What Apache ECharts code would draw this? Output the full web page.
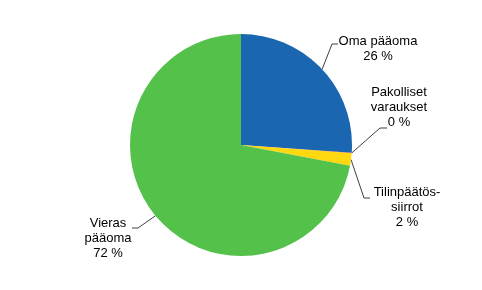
<!DOCTYPE html>
<html>
<head>
<meta charset="utf-8">
<script src="https://cdn.jsdelivr.net/npm/echarts@6/dist/echarts.min.js"></script>
<style>
html,body{margin:0;padding:0;background:#fff;}
#chart{width:482px;height:290px;}
</style>
</head>
<body>
<div id="chart"></div>
<script>
// ---- data ----
const categories = ['Oma pääoma', 'Pakolliset varaukset', 'Tilinpäätössiirrot', 'Vieras pääoma'];
const labelTexts = ['Oma pääoma\n26 %', 'Pakolliset\nvaraukset\n0 %', 'Tilinpäätös-\nsiirrot\n2 %', 'Vieras\npääoma\n72 %'];
const values = [26.1, 0.1, 1.8, 72.0];

// ---- styling / layout config ----
const colors = ['#1a66b0', '#c0504d', '#ffd80f', '#54c14a'];
// label block centre, line anchor (relative to label centre), elbow offset
const labelLayouts = [
  {x: 378, y: 49,  ax: -40, ay: -5, ex: -6},
  {x: 399, y: 107, ax: -12, ay: 21, ex: -7},
  {x: 407, y: 207, ax: -37, ay: -9, ex: -6},
  {x: 108, y: 238, ax: 24,  ay: -10, ex: 6}
];

const chart = echarts.init(document.getElementById('chart'), null, {renderer: 'canvas'});
chart.setOption({
  animation: false,
  backgroundColor: '#ffffff',
  series: [{
    type: 'pie',
    center: [241, 145],
    radius: [0, 111],
    startAngle: 90,
    clockwise: true,
    avoidLabelOverlap: false,
    itemStyle: {borderWidth: 0},
    label: {
      show: true,
      position: 'outside',
      formatter: p => labelTexts[p.dataIndex],
      fontFamily: 'Liberation Sans, Arial, sans-serif',
      fontSize: 13,
      lineHeight: 15,
      color: '#000',
      align: 'center'
    },
    labelLine: {
      show: true,
      length: 10,
      length2: 10,
      lineStyle: {color: '#404040', width: 1}
    },
    labelLayout: function (params) {
      const L = labelLayouts[params.dataIndex];
      const start = params.labelLinePoints ? params.labelLinePoints[0] : [0, 0];
      const end = [L.x + L.ax, L.y + L.ay];
      const elbow = [end[0] + L.ex, end[1]];
      return {
        x: L.x,
        y: L.y,
        align: 'center',
        verticalAlign: 'middle',
        labelLinePoints: [start, elbow, end]
      };
    },
    data: categories.map((c, i) => ({name: c, value: values[i], itemStyle: {color: colors[i]}}))
  }]
});
</script>
</body>
</html>
